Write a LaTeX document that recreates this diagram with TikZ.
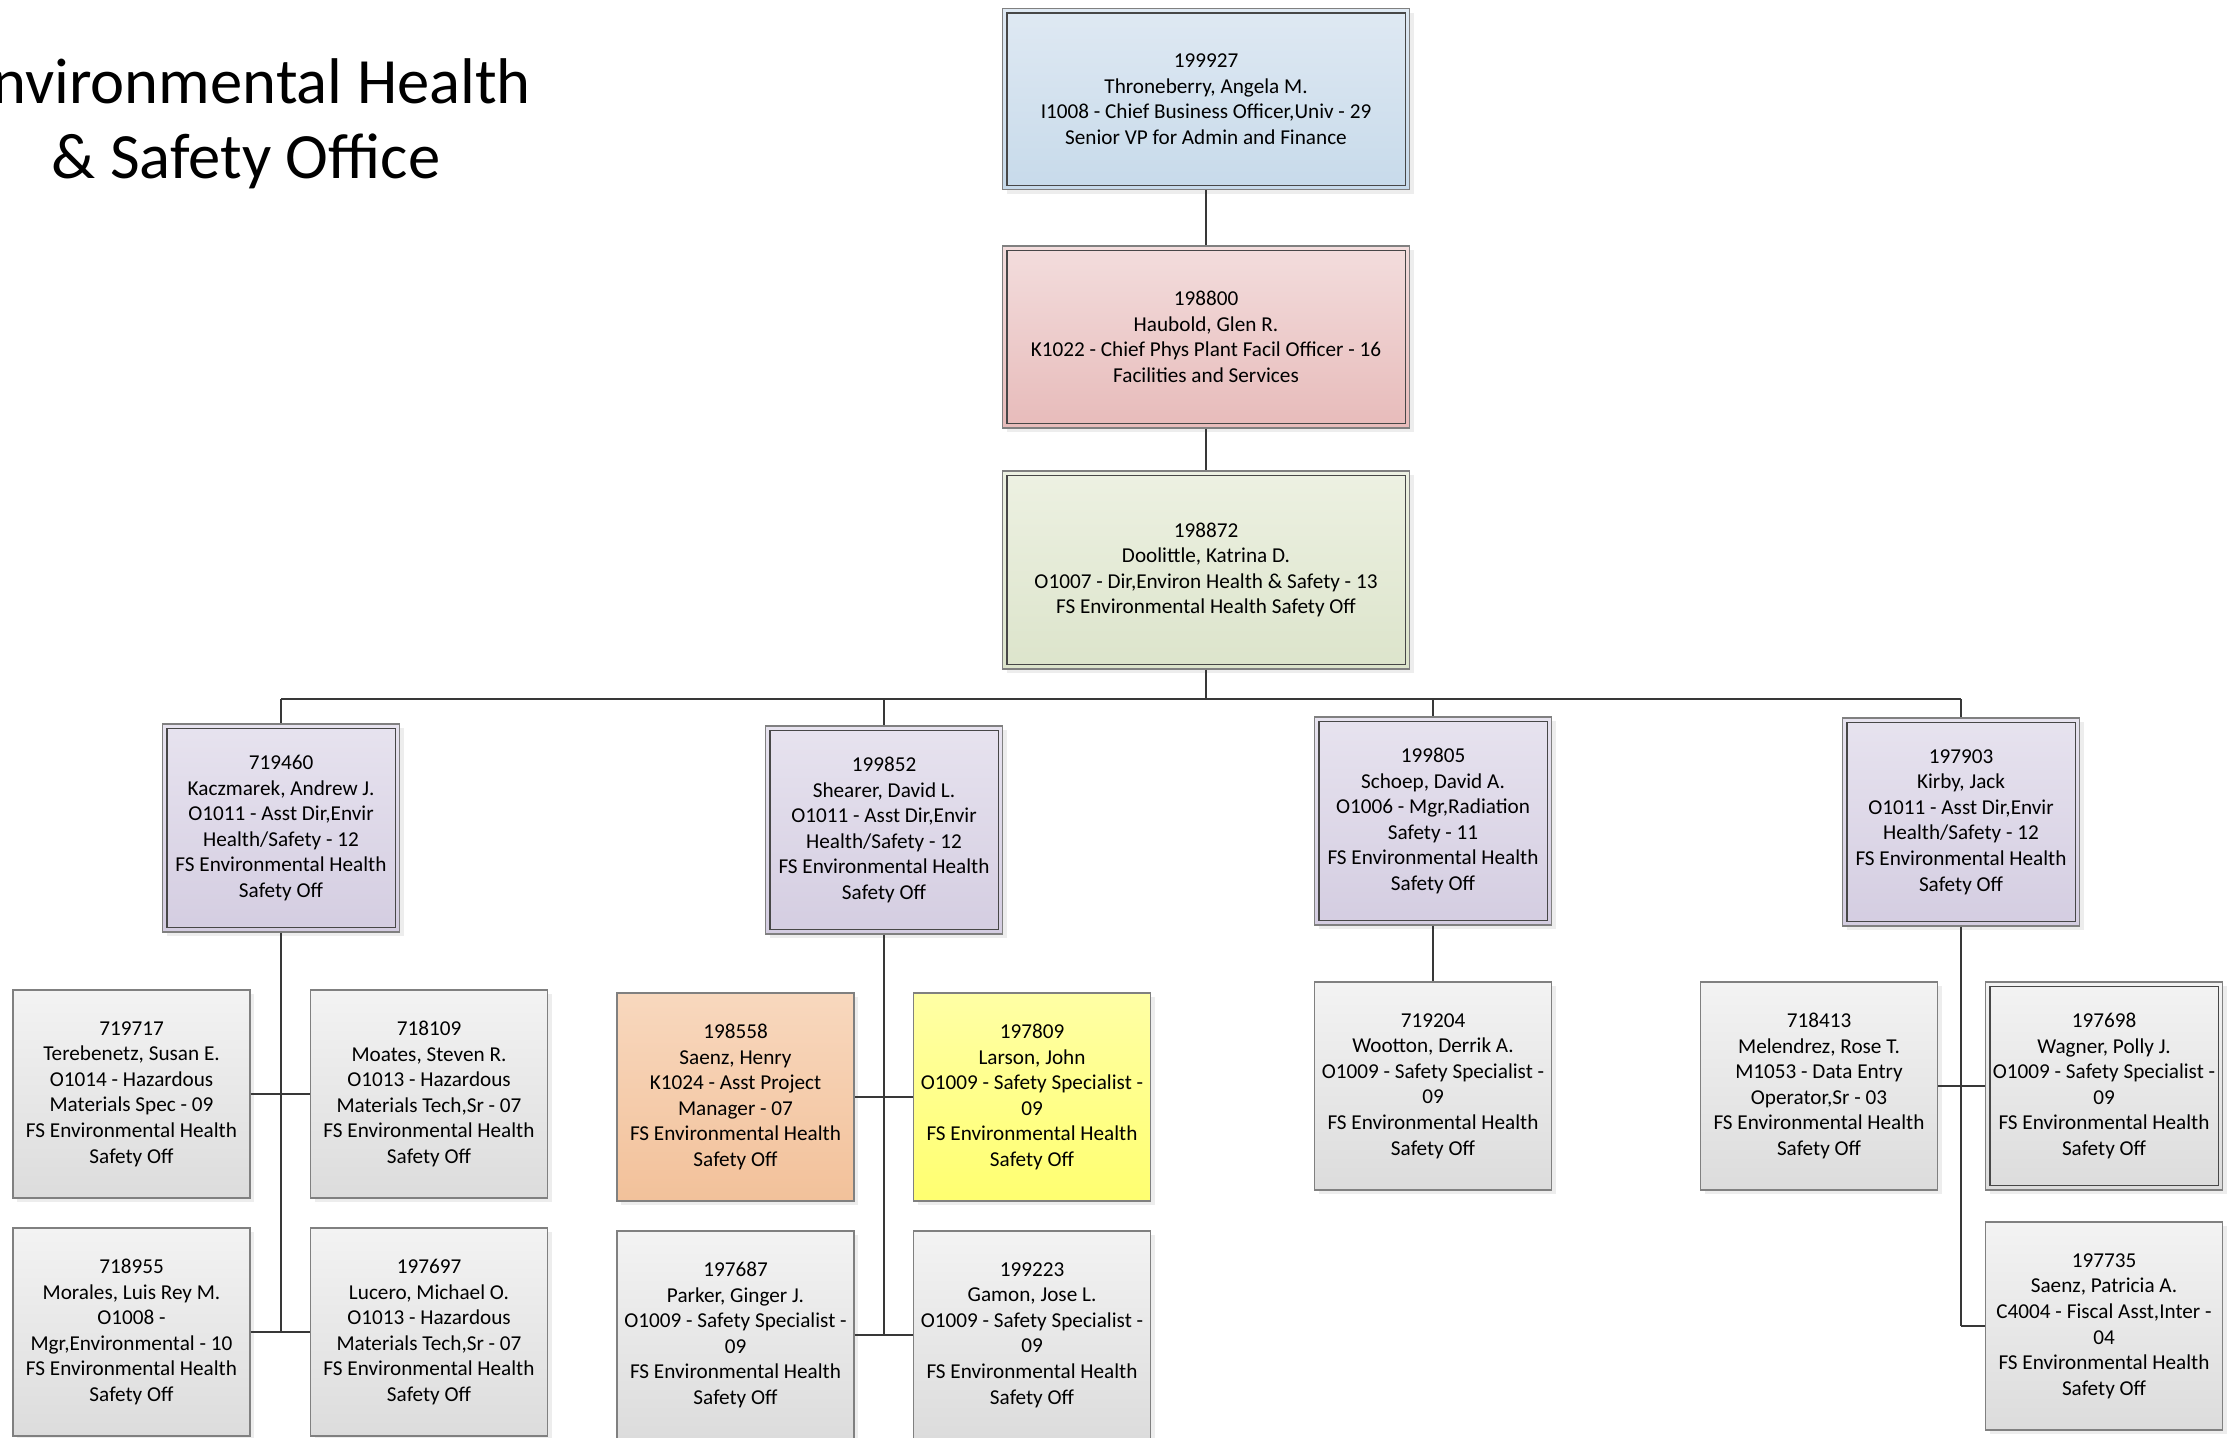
\documentclass[tikz,border=0pt]{standalone}
\usepackage{fontspec}
\setmainfont{Carlito}
\usetikzlibrary{shadows}
\definecolor{bluetop}{RGB}{223,233,243}
\definecolor{bluebot}{RGB}{199,218,234}
\definecolor{pinktop}{RGB}{243,221,221}
\definecolor{pinkbot}{RGB}{231,187,186}
\definecolor{greentop}{RGB}{237,241,226}
\definecolor{greenbot}{RGB}{220,228,203}
\definecolor{lilactop}{RGB}{231,227,239}
\definecolor{lilacbot}{RGB}{212,205,225}
\definecolor{greytop}{RGB}{243,243,243}
\definecolor{greybot}{RGB}{220,220,220}
\definecolor{orangetop}{RGB}{248,216,190}
\definecolor{orangebot}{RGB}{242,193,154}
\definecolor{yellowtop}{RGB}{255,255,165}
\definecolor{yellowbot}{RGB}{255,255,112}
\newcommand{\fsoff}{FS Environmental Health\\Safety Off}
\begin{document}
\begin{tikzpicture}  % ------ organigramme EHS office -------------------
   [x=0.5pt,y=-0.5pt,
    box/.style={draw=black!50,line width=.6pt,inner sep=0pt,align=center,
       font=\fontsize{10.6}{12.8}\selectfont,
       drop shadow={shadow xshift=2pt,shadow yshift=-2pt,opacity=.14}},
    wide/.style={box,minimum width=203.5pt},
    small/.style={box,minimum width=118.5pt,minimum height=104pt},
    lilac/.style={small,top color=lilactop,bottom color=lilacbot},
    grey/.style={small,top color=greytop,bottom color=greybot},
    rim/.style={draw=black!72,line width=.6pt},
    link/.style={draw=black!78,line width=1.4pt}]
\useasboundingbox (0,0) rectangle (2231,1437);
    \node[font=\fontsize{32.3}{37.5}\selectfont,align=center] (title) at (246,124)
       {Environmental Health\\\& Safety Office};
    % top of the chart
    \node[wide,minimum height=90.5pt,top color=bluetop,bottom color=bluebot] (thron) at (1206,99)
       {199927\\Throneberry, Angela M.\\I1008 - Chief Business Officer,Univ - 29\\Senior VP for Admin and Finance};
    \node[wide,minimum height=91pt,top color=pinktop,bottom color=pinkbot] (haub) at (1206,337)
       {198800\\Haubold, Glen R.\\K1022 - Chief Phys Plant Facil Officer - 16\\Facilities and Services};
    \node[wide,minimum height=99pt,top color=greentop,bottom color=greenbot] (dool) at (1206,570)
       {198872\\Doolittle, Katrina D.\\O1007 - Dir,Environ Health \& Safety - 13\\FS Environmental Health Safety Off};
    \coordinate (bus) at (1206,699);
    % assistant directors
    \node[lilac] (kacz) at (281,828) {719460\\Kaczmarek, Andrew J.\\O1011 - Asst Dir,Envir\\Health/Safety - 12\\\fsoff};
    \node[lilac] (shea) at (884,830) {199852\\Shearer, David L.\\O1011 - Asst Dir,Envir\\Health/Safety - 12\\\fsoff};
    \node[lilac] (scho) at (1433,821) {199805\\Schoep, David A.\\O1006 - Mgr,Radiation\\Safety - 11\\\fsoff};
    \node[lilac] (kirb) at (1961,822) {197903\\Kirby, Jack\\O1011 - Asst Dir,Envir\\Health/Safety - 12\\\fsoff};
    % staff
    \node[grey] (tere) at (131.5,1094) {719717\\Terebenetz, Susan E.\\O1014 - Hazardous\\Materials Spec - 09\\\fsoff};
    \node[grey] (moat) at (429,1094) {718109\\Moates, Steven R.\\O1013 - Hazardous\\Materials Tech,Sr - 07\\\fsoff};
    \node[grey] (mora) at (131.5,1332) {718955\\Morales, Luis Rey M.\\O1008 -\\Mgr,Environmental - 10\\\fsoff};
    \node[grey] (luce) at (429,1332) {197697\\Lucero, Michael O.\\O1013 - Hazardous\\Materials Tech,Sr - 07\\\fsoff};
    \node[small,top color=orangetop,bottom color=orangebot] (saeh) at (735.5,1097)
       {198558\\Saenz, Henry\\K1024 - Asst Project\\Manager - 07\\\fsoff};
    \node[small,top color=yellowtop,bottom color=yellowbot] (lars) at (1032,1097)
       {197809\\Larson, John\\O1009 - Safety Specialist -\\09\\\fsoff};
    \node[grey] (park) at (735.5,1335) {197687\\Parker, Ginger J.\\O1009 - Safety Specialist -\\09\\\fsoff};
    \node[grey] (gamo) at (1032,1335) {199223\\Gamon, Jose L.\\O1009 - Safety Specialist -\\09\\\fsoff};
    \node[grey] (woot) at (1433,1086) {719204\\Wootton, Derrik A.\\O1009 - Safety Specialist -\\09\\\fsoff};
    \node[grey] (mele) at (1819,1086) {718413\\Melendrez, Rose T.\\M1053 - Data Entry\\Operator,Sr - 03\\\fsoff};
    \node[grey] (wagn) at (2104,1086) {197698\\Wagner, Polly J.\\O1009 - Safety Specialist -\\09\\\fsoff};
    \node[grey] (saep) at (2104,1326) {197735\\Saenz, Patricia A.\\C4004 - Fiscal Asst,Inter -\\04\\\fsoff};
    % inner rims of the double framed boxes
    \foreach \n in {thron,haub,dool,kacz,shea,scho,kirb,wagn}
       \draw[rim] ([shift={(2.5pt,-2.5pt)}]\n.north west) rectangle ([shift={(-2.5pt,2.5pt)}]\n.south east);
    % connectors
    \draw[link] (thron) -- (haub);
    \draw[link] (haub) -- (dool);
    \draw[link] (dool) -- (bus);
    \draw[link] (kacz |- bus) -- (kirb |- bus);
    \foreach \n in {kacz,shea,scho,kirb}
       \draw[link] (\n |- bus) -- (\n);
    \draw[link] (kacz) -- (kacz |- mora);
    \draw[link] (tere) -- (moat);
    \draw[link] (mora) -- (luce);
    \draw[link] (shea) -- (shea |- park);
    \draw[link] (saeh) -- (lars);
    \draw[link] (park) -- (gamo);
    \draw[link] (scho) -- (woot);
    \draw[link] (kirb) -- (kirb |- saep);
    \draw[link] (mele) -- (wagn);
    \draw[link] (kirb |- saep) -- (saep);
\end{tikzpicture}
\end{document}
